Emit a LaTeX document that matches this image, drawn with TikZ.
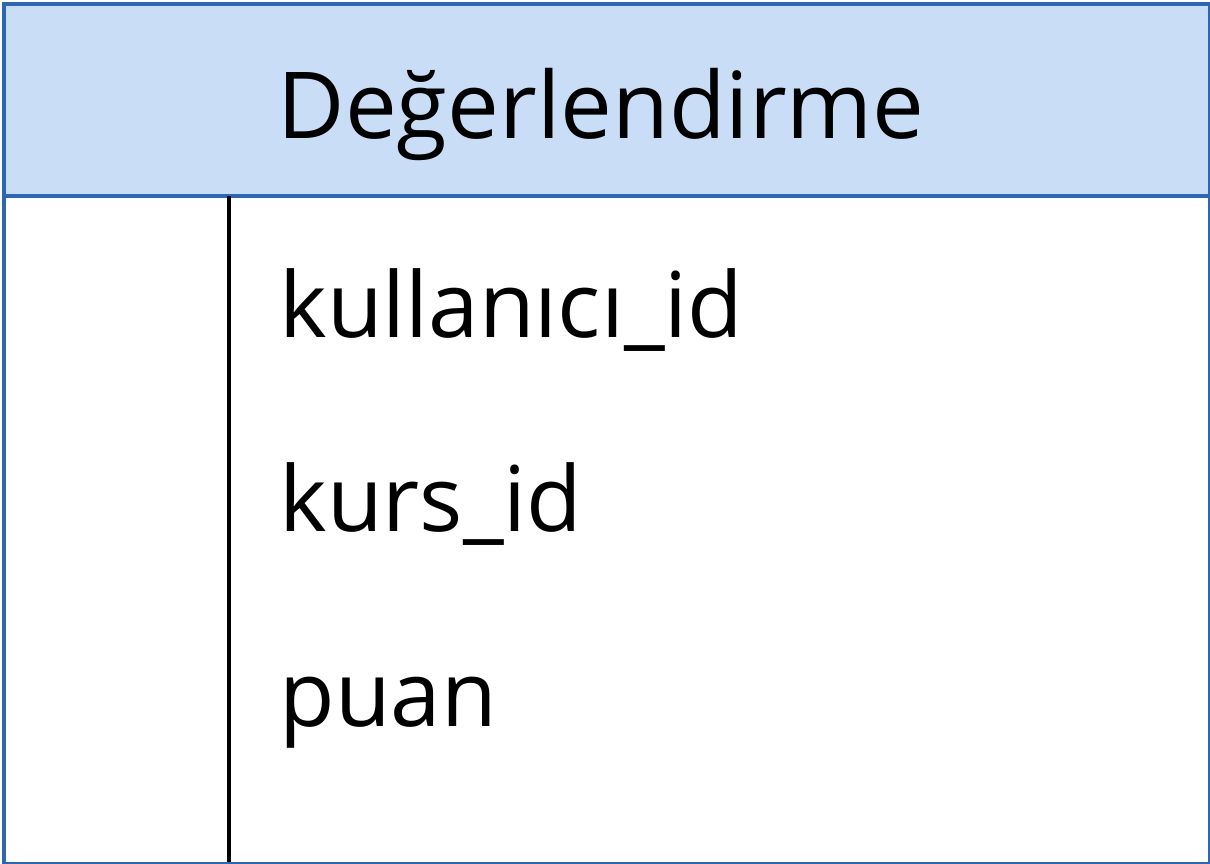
\documentclass[tikz,border=0pt]{standalone}
\usepackage{fontspec}
\setmainfont{Open Sans}
\usetikzlibrary{positioning}

\definecolor{erblue}{HTML}{2E67B1}
\definecolor{erhead}{HTML}{C9DDF7}

\begin{document}
\begin{tikzpicture}
  \useasboundingbox (0, 0) rectangle (12.1, 8.64);
  % Boxes
  \node (head) [rectangle, fill=erhead, minimum height=1.93cm, minimum width=12.06cm, inner sep=0pt, anchor=north west] at (0.02, 8.62) {};
  \node (body) [rectangle, draw=erblue, line width=1.2pt, minimum height=8.6cm, minimum width=12.06cm, inner sep=0pt, anchor=north west] at (0.02, 8.62) {};
  \draw[erblue, line width=1.2pt] (head.south west) -- (head.south east);
  \coordinate (k) at (2.29, 0.02);
  \draw[black, line width=0.9pt] (head.south west -| k) -- (k);
  % Text
  \node (title) [anchor=base west, inner sep=0pt, font=\fontsize{26.3}{30}\selectfont] at (2.77, 7.25) {Değerlendirme};
  \node (a-0) [anchor=base west, inner sep=0pt, font=\fontsize{25.8}{30}\selectfont] at (2.79, 5.26) {kullanıcı\_id};
  \node (a-1) [anchor=base west, inner sep=0pt, font=\fontsize{25.8}{30}\selectfont] at (2.79, 3.32) {kurs\_id};
  \node (a-2) [anchor=base west, inner sep=0pt, font=\fontsize{25.8}{30}\selectfont] at (2.79, 1.37) {puan};
\end{tikzpicture}
\end{document}
